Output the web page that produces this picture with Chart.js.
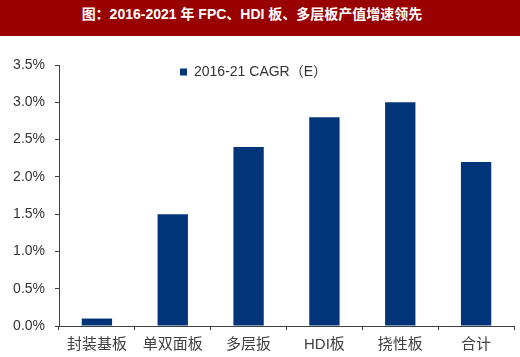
<!DOCTYPE html>
<html><head><meta charset="utf-8">
<script src="https://cdn.jsdelivr.net/npm/chart.js@4/dist/chart.umd.min.js"></script>
<style>
html,body{margin:0;padding:0;background:#fff;}
#hdr{width:520px;height:36px;background:#990000;color:#fff;font:bold 14px "Liberation Sans","Noto Sans CJK SC",sans-serif;text-align:center;line-height:29px;box-sizing:border-box;padding-right:16px;white-space:nowrap;}
#wrap{width:520px;height:321px;position:relative;}
</style></head>
<body>
<div id="hdr">图：2016-2021 年 FPC、HDI 板、多层板产值增速领先</div>
<div id="wrap"><canvas id="c" width="520" height="321"></canvas></div>
<script>
const categories = ['封装基板','单双面板','多层扳','HDI板','挠性板','合计'];
const seriesName = '2016-21 CAGR（E）';
const cagrValues = [0.1, 1.5, 2.4, 2.8, 3.0, 2.2];
const yTicks = [0, 0.5, 1.0, 1.5, 2.0, 2.5, 3.0, 3.5];

const FONT = '"Liberation Sans","Noto Sans CJK SC",sans-serif';
const AXIS = '#404040';

const legendPlace = {
  id: 'legendPlace',
  afterLayout(chart) {
    const l = chart.legend;
    if (l) { l.left = 180; l.top = 29; l.right = l.left + 300; }
  }
};

new Chart(document.getElementById('c'), {
  type: 'bar',
  data: {
    labels: categories,
    datasets: [{
      label: seriesName,
      data: cagrValues,
      backgroundColor: '#02347a',
      borderWidth: 0,
      barPercentage: 0.4,
      categoryPercentage: 1.0
    }]
  },
  options: {
    responsive: false,
    animation: false,
    layout: { padding: { left: 0, right: 6, top: 29, bottom: 0 } },
    plugins: {
      title: { display: false },
      tooltip: { enabled: false },
      legend: {
        position: 'chartArea',
        align: 'start',
        labels: {
          boxWidth: 7, boxHeight: 7, padding: 0,
          color: '#333',
          font: { family: FONT, size: 14 }
        }
      }
    },
    scales: {
      x: {
        grid: { display: true, offset: true, drawOnChartArea: false, drawTicks: true, tickLength: 4, color: AXIS },
        border: { display: true, color: AXIS, width: 1 },
        ticks: { color: '#404040', padding: 6, font: { family: FONT, size: 15 } },
        afterFit(s) { s.height = 31; }
      },
      y: {
        min: 0, max: 3.5,
        afterBuildTicks(s) { s.ticks = yTicks.map(v => ({ value: v })); },
        grid: { display: true, drawOnChartArea: false, drawTicks: true, tickLength: 4, color: AXIS },
        border: { display: true, color: AXIS, width: 1 },
        ticks: { color: '#333', padding: 10, font: { family: FONT, size: 14 }, callback: v => Number(v).toFixed(1) + '%' },
        afterFit(s) { s.width = 59; }
      }
    }
  },
  plugins: [legendPlace]
});
</script>
</body></html>
